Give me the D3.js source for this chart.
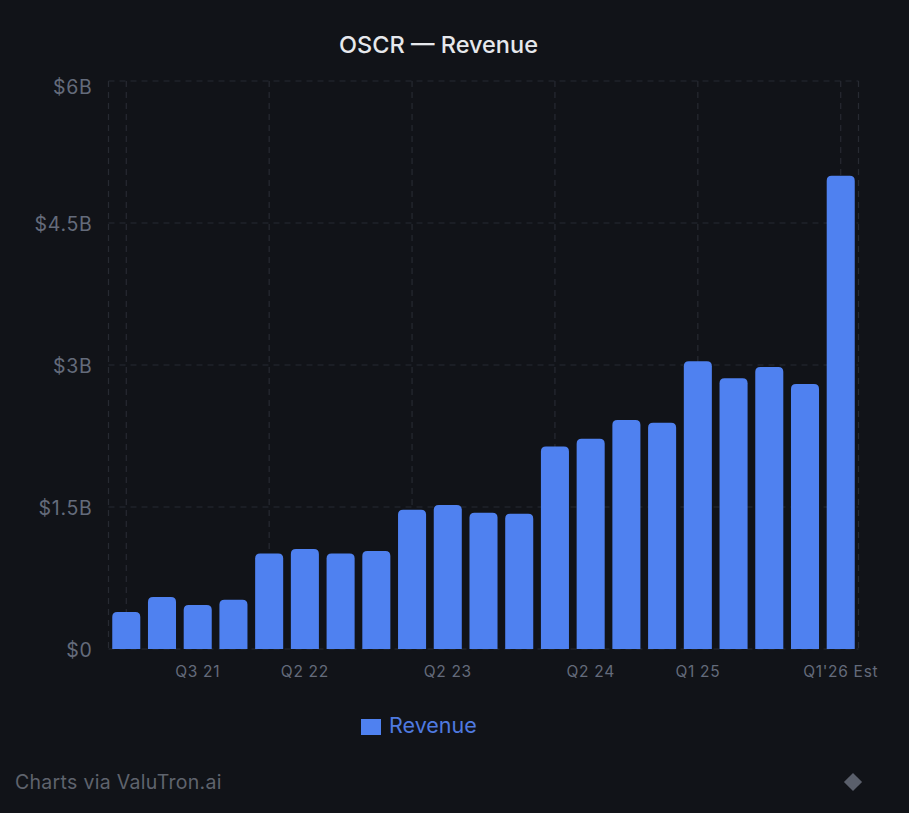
<!DOCTYPE html>
<html>
<head>
<meta charset="utf-8">
<script src="https://cdn.jsdelivr.net/npm/d3@7"></script>
<style>
  html, body { margin: 0; padding: 0; background: #111318; }
  svg { display: block; }
  text { font-family: Inter, "Noto Sans", sans-serif; }
  .domain { display: none; }
  .tick line { display: none; }
</style>
</head>
<body>
<svg id="chart" width="909" height="813"></svg>
<script>
// OSCR quarterly revenue, in $B
const quarters = [
    "Q1 21", "Q2 21", "Q3 21", "Q4 21",
    "Q1 22", "Q2 22", "Q3 22", "Q4 22",
    "Q1 23", "Q2 23", "Q3 23", "Q4 23",
    "Q1 24", "Q2 24", "Q3 24", "Q4 24",
    "Q1 25", "Q2 25", "Q3 25", "Q4 25",
    "Q1'26 Est"
];
const revenue = [
    0.39, 0.55, 0.465, 0.52,
    1.01, 1.056, 1.01, 1.035,
    1.47, 1.52, 1.44, 1.43,
    2.14, 2.22, 2.42, 2.39,
    3.04, 2.86, 2.98, 2.80,
    5.0
];
const yTicks = [0, 1.5, 3, 4.5, 6];
const xLabels = ["Q3 21", "Q2 22", "Q2 23", "Q2 24", "Q1 25", "Q1'26 Est"];
const xGrid = ["Q1 21", "Q1 22", "Q1 23", "Q1 24", "Q1 25", "Q1'26 Est"];

const plotLeft = 108.5, plotRight = 858.5, plotTop = 81, plotBottom = 649;
const barColor = "#4f81f0", gridColor = "#272a32";

let paper = d3.select("#chart");

let x = d3.scaleBand().domain(quarters).range([plotLeft, plotRight]).paddingInner(0.215).paddingOuter(0.105);
let y = d3.scaleLinear().domain([0, 6]).range([plotBottom, plotTop]);

// grid
let grid = paper.append("g")
    .attr("stroke", gridColor)
    .attr("stroke-width", 1.2)
    .attr("stroke-dasharray", "6 5")
    .attr("fill", "none");

grid.selectAll("line.h").data(yTicks).join("line")
    .attr("class", "h")
    .attr("x1", plotLeft).attr("x2", plotRight)
    .attr("y1", d => y(d)).attr("y2", d => y(d));

grid.selectAll("line.v").data(xGrid).join("line")
    .attr("class", "v")
    .attr("x1", d => x(d) + x.bandwidth() / 2).attr("x2", d => x(d) + x.bandwidth() / 2)
    .attr("y1", plotTop).attr("y2", plotBottom);

grid.selectAll("line.edge").data([plotLeft, plotRight]).join("line")
    .attr("class", "edge")
    .attr("x1", d => d).attr("x2", d => d)
    .attr("y1", plotTop).attr("y2", plotBottom);

// bars, rounded on top only
function barPath(name, value) {
    let r = 5;
    let x0 = x(name), x1 = x0 + x.bandwidth();
    let p = d3.path();
    p.moveTo(x0, y(0));
    p.lineTo(x0, y(value) + r);
    p.quadraticCurveTo(x0, y(value), x0 + r, y(value));
    p.lineTo(x1 - r, y(value));
    p.quadraticCurveTo(x1, y(value), x1, y(value) + r);
    p.lineTo(x1, y(0));
    p.closePath();
    return p.toString();
}

paper.append("g").selectAll("path").data(quarters).join("path")
    .attr("d", (d, i) => barPath(d, revenue[i]))
    .attr("fill", barColor);

// axes
let yAxis = paper.append("g")
    .attr("transform", "translate(" + plotLeft + ",0)")
    .call(d3.axisLeft(y).tickValues(yTicks).tickSize(0).tickPadding(16)
        .tickFormat(d => "$" + (d === 0 ? "0" : d + "B")));
yAxis.selectAll("text")
    .attr("fill", "#646b7b")
    .attr("font-size", 19.5)
    .attr("letter-spacing", 0.7)
    // the top label sits lower so it stays inside the card
    .attr("y", d => d === 6 ? 6 : 1);

let xAxis = paper.append("g")
    .attr("transform", "translate(0," + plotBottom + ")")
    .call(d3.axisBottom(x).tickValues(xLabels).tickSize(0).tickPadding(17));
xAxis.selectAll("text")
    .attr("fill", "#646b7b")
    .attr("font-size", 15.5)
    .attr("letter-spacing", 0.7);

// title
paper.append("text")
    .attr("x", 438.5).attr("y", 53)
    .attr("text-anchor", "middle")
    .attr("fill", "#e6e8ec")
    .attr("font-size", 23.5)
    .attr("font-weight", 550)
    .text("OSCR — Revenue");

// legend
paper.append("rect")
    .attr("x", 361).attr("y", 719)
    .attr("width", 20).attr("height", 16)
    .attr("fill", barColor);
paper.append("text")
    .attr("x", 389).attr("y", 733)
    .attr("fill", "#4f7ae0")
    .attr("font-size", 21.5)
    .text("Revenue");

// footer
paper.append("text")
    .attr("x", 15).attr("y", 789)
    .attr("fill", "#5f636d")
    .attr("font-size", 19.5)
    .attr("letter-spacing", 0.3)
    .text("Charts via ValuTron.ai");
paper.append("path")
    .attr("d", d3.symbol(d3.symbolSquare, 165)())
    .attr("transform", "translate(853,782) rotate(45)")
    .attr("fill", "#5a5f6b");
</script>
</body>
</html>
